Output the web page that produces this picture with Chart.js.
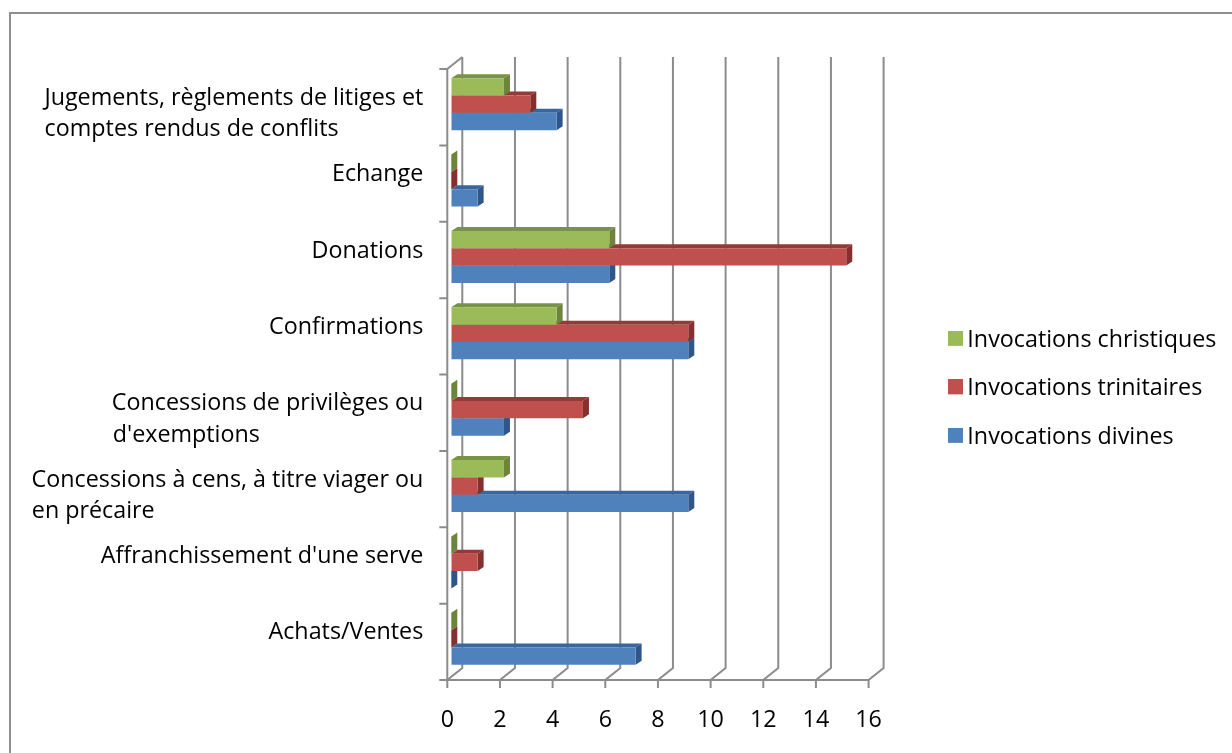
<!DOCTYPE html>
<html>
<head>
<meta charset="utf-8">
<style>html,body{margin:0;background:#fff;overflow:hidden}canvas{display:block}</style>
<script src="https://cdn.jsdelivr.net/npm/chart.js@4"></script>
</head>
<body>
<canvas id="chart" width="1232" height="753"></canvas>
<script>
// bas -> haut, comme dans la feuille Excel
const categories = [
  ['Achats/Ventes'],
  ["Affranchissement d'une serve"],
  ['Concessions à cens, à titre viager ou', 'en précaire'],
  ['Concessions de privilèges ou', "d'exemptions"],
  ['Confirmations'],
  ['Donations'],
  ['Echange'],
  ['Jugements, règlements de litiges et', 'comptes rendus de conflits']
];
const divines     = [7, 0, 9, 2, 9, 6, 1, 4];
const trinitaires = [0, 1, 1, 5, 9, 15, 0, 3];
const christiques = [0, 0, 2, 0, 4, 6, 0, 2];

const FONT = 'Open Sans';
const FONT_SIZE = 23.3;
const AXIS = '#8c8c8c';
const FRONT = {dx:-4, dy:3};    // plan avant de la cage 3D, par rapport au plan des barres
const BACK  = {dx:11, dy:-9};   // mur du fond
const DEPTH = {dx:6, dy:-4};    // profondeur des barres
const SHADE = {
  '#4F81BD': {top:'#39669c', side:'#2f5688'},
  '#C0504D': {top:'#953a38', side:'#84302e'},
  '#9BBB59': {top:'#789343', side:'#6c843c'}
};

function poly(ctx, pts, fill){
  ctx.beginPath();
  pts.forEach((p,i)=> i ? ctx.lineTo(p[0],p[1]) : ctx.moveTo(p[0],p[1]));
  ctx.closePath();
  ctx.fillStyle = fill;
  ctx.fill();
}

// carre de legende, 4px vides en bas pour le remonter par rapport au texte
function swatch(color){
  const c = document.createElement('canvas');
  c.width = 15; c.height = 19;
  const x = c.getContext('2d');
  x.fillStyle = color;
  x.fillRect(0,0,15,15);
  return c;
}

// Excel aligne a gauche les libelles sur deux lignes : on complete la 2e ligne par des espaces
const measure = document.createElement('canvas').getContext('2d');
measure.font = FONT_SIZE+'px "'+FONT+'"';
function tickLines(lines){
  if(lines.length<2) return [lines[0],''];
  const target = measure.measureText(lines[0]).width;
  let second = lines[1];
  const sp = measure.measureText(' ').width, hair = measure.measureText('\u200A').width;
  while(target-measure.measureText(second).width >= sp) second += ' ';
  while(target-measure.measureText(second).width >= hair/2) second += '\u200A';
  return [lines[0],second];
}

// cadre, cage 3D et faces de profondeur, tout passe par les echelles du graphique
const fake3d = {
  id:'fake3d',
  afterLayout(chart){
    Object.assign(chart.legend, {left:929.5, right:1232, top:303.5, bottom:753});
  },
  beforeDraw(chart){
    const ctx = chart.ctx;
    ctx.save();
    ctx.strokeStyle = '#8f8f8f';
    ctx.lineWidth = 2;
    ctx.beginPath();
    ctx.moveTo(10,753); ctx.lineTo(10,13); ctx.lineTo(1232,13);
    ctx.stroke();
    ctx.restore();
  },
  beforeDatasetsDraw(chart){
    const ctx = chart.ctx, xs = chart.scales.x, ys = chart.scales.y;
    const {top, bottom} = chart.chartArea;
    const yFront = bottom + FRONT.dy, yBack = bottom + BACK.dy;
    ctx.save();
    ctx.strokeStyle = AXIS;
    ctx.lineWidth = 2;
    ctx.beginPath();
    xs.ticks.forEach(t=>{
      const p = xs.getPixelForValue(t.value);
      ctx.moveTo(p+FRONT.dx, yFront+8);
      ctx.lineTo(p+FRONT.dx, yFront);
      ctx.lineTo(p+BACK.dx, yBack);
      ctx.lineTo(p+BACK.dx, top+BACK.dy);
    });
    const x0 = xs.getPixelForValue(0), x1 = xs.getPixelForValue(16);
    ctx.moveTo(x0+FRONT.dx, yFront);
    ctx.lineTo(x1+FRONT.dx, yFront);
    ctx.moveTo(x0+FRONT.dx, yFront);
    ctx.lineTo(x0+FRONT.dx, top+FRONT.dy);
    ctx.lineTo(x0+BACK.dx, top+BACK.dy);
    categories.forEach((c,i)=>{
      const p = ys.getPixelForValue(i) + ys.height/categories.length/2;
      ctx.moveTo(x0+FRONT.dx-8, p+FRONT.dy);
      ctx.lineTo(x0+FRONT.dx, p+FRONT.dy);
    });
    ctx.moveTo(x0+FRONT.dx-8, top+FRONT.dy);
    ctx.lineTo(x0+FRONT.dx, top+FRONT.dy);
    ctx.stroke();

    // du bas vers le haut : chaque serie recouvre le dessus de celle du dessous
    for(let d=chart.data.datasets.length-1; d>=0; d--){
      const shade = SHADE[chart.data.datasets[d].backgroundColor];
      chart.getDatasetMeta(d).data.forEach(b=>{
        const t = b.y-b.height/2, u = b.y+b.height/2, l = b.base, r = b.x;
        const a = DEPTH.dx, h = DEPTH.dy;
        if(r>l) poly(ctx, [[l,t],[r,t],[r+a,t+h],[l+a,t+h]], shade.top);
        poly(ctx, [[r,t],[r+a,t+h],[r+a,u+h],[r,u]], shade.side);
      });
    }
    ctx.restore();
  }
};

new Chart(document.getElementById('chart'),{
  type:'bar',
  data:{
    labels:categories,
    datasets:[
      {label:'Invocations christiques', data:christiques, backgroundColor:'#9BBB59'},
      {label:'Invocations trinitaires', data:trinitaires, backgroundColor:'#C0504D'},
      {label:'Invocations divines', data:divines, backgroundColor:'#4F81BD'}
    ]
  },
  plugins:[fake3d],
  options:{
    indexAxis:'y', responsive:false, animation:false,
    categoryPercentage:0.68, barPercentage:1,
    layout:{padding:{left:0, top:66, right:359.4, bottom:0}},
    plugins:{
      tooltip:{enabled:false},
      legend:{
        position:'chartArea', align:'start',
        labels:{
          usePointStyle:true, boxWidth:1, padding:25.2,
          color:'#000', font:{family:FONT, size:FONT_SIZE},
          generateLabels(chart){
            return Chart.defaults.plugins.legend.labels.generateLabels(chart)
              .map(it=>({...it, pointStyle:swatch(it.fillStyle)}));
          }
        }
      }
    },
    scales:{
      x:{
        min:0, max:16,
        grid:{display:false, drawTicks:false}, border:{display:false},
        afterFit(s){ s.height = 76; },
        ticks:{stepSize:2, padding:29, labelOffset:-4, maxRotation:0, color:'#000', font:{family:FONT, size:FONT_SIZE}}
      },
      y:{
        reverse:true,
        grid:{display:false, drawTicks:false}, border:{display:false},
        afterFit(s){ s.width = 451.3; },
        ticks:{
          autoSkip:false, padding:28, labelOffset:9.75, color:'#000',
          font:{family:FONT, size:FONT_SIZE, lineHeight:1.352},
          // premiere ligne toujours au meme niveau : ligne vide si une seule ligne
          callback:(v,i)=> tickLines(categories[i])
        }
      }
    }
  }
});
</script>
</body>
</html>
